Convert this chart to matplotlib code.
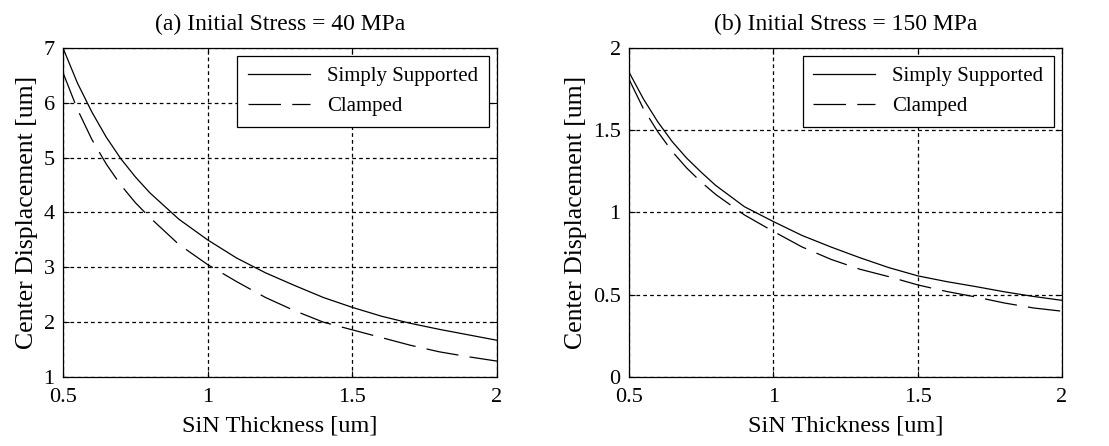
import matplotlib
matplotlib.use('Agg')
import matplotlib.pyplot as plt

plt.rcParams['font.family'] = ['Liberation Serif', 'DejaVu Serif']

# SiN thickness (um), shared by both panels
thickness = [0.5, 0.55, 0.6, 0.65, 0.7, 0.75, 0.8, 0.9, 1.0, 1.1, 1.2, 1.3, 1.4,
             1.5, 1.6, 1.7, 1.8, 1.9, 2.0]

# (a) initial stress 40 MPa
simply_40 = [7.0, 6.36, 5.83, 5.37, 4.98, 4.65, 4.36, 3.88, 3.5, 3.17, 2.9, 2.67,
             2.45, 2.27, 2.11, 1.98, 1.87, 1.77, 1.67]
clamped_40 = [6.55, 5.88, 5.33, 4.88, 4.5, 4.18, 3.91, 3.42, 3.05, 2.74, 2.45,
              2.21, 2.0, 1.86, 1.72, 1.58, 1.46, 1.37, 1.29]

# (b) initial stress 150 MPa
simply_150 = [1.853, 1.69, 1.55, 1.43, 1.33, 1.245, 1.165, 1.035, 0.945, 0.86, 0.79,
              0.725, 0.665, 0.615, 0.58, 0.55, 0.518, 0.49, 0.466]
clamped_150 = [1.81, 1.63, 1.49, 1.37, 1.27, 1.185, 1.11, 0.985, 0.885, 0.79, 0.715,
               0.655, 0.61, 0.56, 0.52, 0.487, 0.45, 0.42, 0.40]

titles = ['(a) Initial Stress = 40 MPa', '(b) Initial Stress = 150 MPa']
ylims = [(1, 7), (0, 2)]
yticks = [[1, 2, 3, 4, 5, 6, 7], [0, 0.5, 1, 1.5, 2]]
xticks = [0.5, 1, 1.5, 2]

fig = plt.figure(figsize=(11.09, 4.46), dpi=100)
ax_a = fig.add_axes([0.0568, 0.1547, 0.3913, 0.7377])
ax_b = fig.add_axes([0.5672, 0.1547, 0.3904, 0.7377])

panels = [(ax_a, simply_40, clamped_40), (ax_b, simply_150, clamped_150)]
for i, (ax, ss, cl) in enumerate(panels):
    ax.plot(thickness, ss, color='black', lw=0.9, label='Simply Supported')
    ax.plot(thickness, cl, color='black', lw=0.9, dashes=(26, 9), label='Clamped')
    ax.set_xlim(0.5, 2)
    ax.set_ylim(*ylims[i])
    ax.set_xticks(xticks)
    ax.set_xticklabels(['0.5', '1', '1.5', '2'])
    ax.set_yticks(yticks[i])
    ax.set_yticklabels([f'{v:g}' for v in yticks[i]])
    ax.grid(True, color='black', lw=0.9, linestyle=(0, (3, 2.5)))
    ax.tick_params(direction='in', length=4, width=0.8, labelsize=16,
                   top=True, right=True)
    ax.tick_params(axis='x', pad=8)
    ax.tick_params(axis='y', pad=6)
    for sp in ax.spines.values():
        sp.set_linewidth(0.9)
    ax.set_title(titles[i], fontsize=17, pad=13)
    ax.set_xlabel('SiN Thickness [um]', fontsize=17.5, labelpad=6)
    ax.set_ylabel('Center Displacement [um]', fontsize=18.5, labelpad=4)
    leg = ax.legend(loc='upper right', fontsize=15, fancybox=False, framealpha=1,
                    edgecolor='black', handlelength=3.0, borderaxespad=0.4,
                    labelspacing=0.5, borderpad=0.5)
    leg.get_frame().set_linewidth(0.9)

fig.savefig('out.png', dpi=100)
